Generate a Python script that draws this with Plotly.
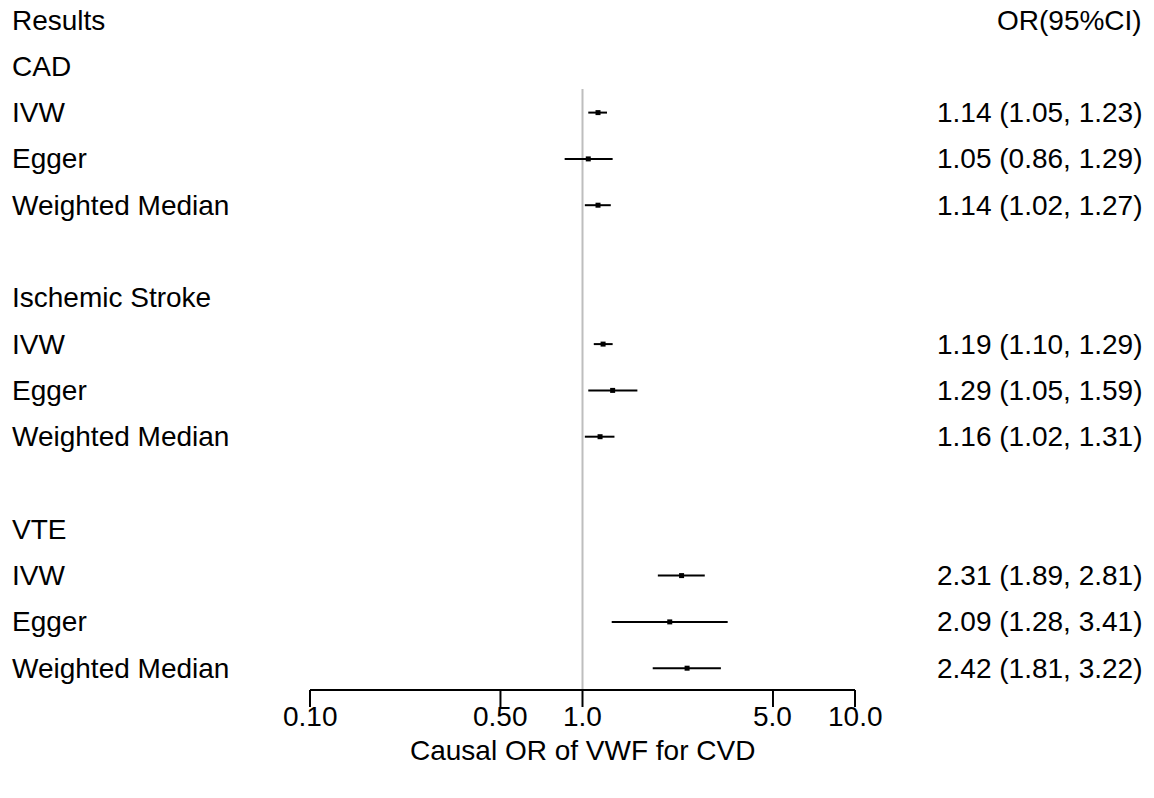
import math
import plotly.graph_objects as go

# ---- data ----
row_labels = ["Results", "CAD", "IVW", "Egger", "Weighted Median", "",
              "Ischemic Stroke", "IVW", "Egger", "Weighted Median", "",
              "VTE", "IVW", "Egger", "Weighted Median"]
or_est = [None, None, 1.14, 1.05, 1.14, None, None, 1.19, 1.29, 1.16, None, None, 2.31, 2.09, 2.42]
ci_low = [None, None, 1.05, 0.86, 1.02, None, None, 1.10, 1.05, 1.02, None, None, 1.89, 1.28, 1.81]
ci_high = [None, None, 1.23, 1.29, 1.27, None, None, 1.29, 1.59, 1.31, None, None, 2.81, 3.41, 3.22]
tick_vals = [0.1, 0.5, 1.0, 5.0, 10.0]
tick_text = ["0.10", "0.50", "1.0", "5.0", "10.0"]
header_right = "OR(95%CI)"
x_title = "Causal OR of VWF for CVD"

W, H = 1154, 798
FONT = "Liberation Sans, Arial, sans-serif"
FS = 28

# pixel mapping helpers (layout only)
row0_px, row_step = 20.0, 46.3
px_per_dec = 272.5
x_left_px = 310.0
def row_of(py):
    return (py - row0_px) / row_step

fig = go.Figure()

# CI lines
for i, (e, lo, hi) in enumerate(zip(or_est, ci_low, ci_high)):
    if e is None:
        continue
    fig.add_trace(go.Scatter(x=[lo, hi], y=[i, i], mode="lines",
                             line=dict(color="black", width=2),
                             hoverinfo="skip", showlegend=False))

# point estimates
pts = [(e, i) for i, e in enumerate(or_est) if e is not None]
fig.add_trace(go.Scatter(x=[p[0] for p in pts], y=[p[1] for p in pts], mode="markers",
                         marker=dict(symbol="square", size=5, color="black"),
                         showlegend=False))

shapes = []
# reference line at OR = 1
shapes.append(dict(type="line", xref="x", yref="y", x0=1, x1=1,
                   y0=row_of(89), y1=row_of(690),
                   line=dict(color="#BEBEBE", width=2), layer="below"))
# axis line
ax_row = row_of(690)
shapes.append(dict(type="line", xref="x", yref="y", x0=tick_vals[0], x1=tick_vals[-1],
                   y0=ax_row, y1=ax_row, line=dict(color="black", width=2)))
for tv in tick_vals:
    shapes.append(dict(type="line", xref="x", yref="y", x0=tv, x1=tv,
                       y0=ax_row, y1=row_of(707), line=dict(color="black", width=2)))

annotations = []
for i, lab in enumerate(row_labels):
    if lab:
        annotations.append(dict(x=10 / W, xref="paper", y=i, yref="y", text=lab,
                                showarrow=False, xanchor="left", yanchor="middle",
                                font=dict(family=FONT, size=FS, color="black")))
RX = 1144 / W
annotations.append(dict(x=RX, xref="paper", y=0, yref="y", text=header_right,
                        showarrow=False, xanchor="right", yanchor="middle",
                        font=dict(family=FONT, size=FS, color="black")))
for i, (e, lo, hi) in enumerate(zip(or_est, ci_low, ci_high)):
    if e is None:
        continue
    annotations.append(dict(x=RX, xref="paper", y=i, yref="y",
                            text=f"{e:.2f} ({lo:.2f}, {hi:.2f})",
                            showarrow=False, xanchor="right", yanchor="middle",
                            font=dict(family=FONT, size=FS, color="black")))
# annotations on a log axis take log10 positions
for tv, tt in zip(tick_vals, tick_text):
    annotations.append(dict(x=math.log10(tv), xref="x", y=row_of(716), yref="y", text=tt,
                            showarrow=False, xanchor="center", yanchor="middle",
                            font=dict(family=FONT, size=FS, color="black")))
annotations.append(dict(x=math.log10(1.0), xref="x", y=row_of(750), yref="y", text=x_title,
                        showarrow=False, xanchor="center", yanchor="middle",
                        font=dict(family=FONT, size=FS, color="black")))

xr0 = -1 - x_left_px / px_per_dec
xr1 = 1 + (W - 855.0) / px_per_dec
fig.update_layout(
    width=W, height=H, margin=dict(l=0, r=0, t=0, b=0),
    paper_bgcolor="white", plot_bgcolor="white",
    xaxis=dict(type="log", range=[xr0, xr1], visible=False, fixedrange=True),
    yaxis=dict(range=[row_of(H), row_of(0)], visible=False, fixedrange=True),
    shapes=shapes, annotations=annotations, showlegend=False,
)
fig.write_html("out.html")
